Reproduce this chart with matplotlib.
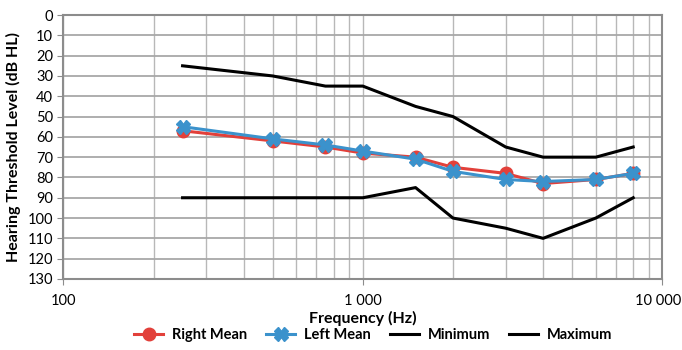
import matplotlib
matplotlib.use("Agg")
import matplotlib.pyplot as plt
import matplotlib.transforms as mtransforms
from matplotlib.ticker import FixedLocator, FixedFormatter, NullFormatter

freqs = [250, 500, 750, 1000, 1500, 2000, 3000, 4000, 6000, 8000]
right_mean = [57, 62, 65, 68, 70, 75, 78, 83, 81, 78]
left_mean = [55, 61, 64, 67, 71, 77, 81, 82, 81, 78]
minimum = [25, 30, 35, 35, 45, 50, 65, 70, 70, 65]
maximum = [90, 90, 90, 90, 85, 100, 105, 110, 100, 90]

x_major = [100, 1000, 10000]
x_major_labels = ["100", "1 000", "10 000"]
y_ticks = list(range(0, 131, 10))

plt.rcParams["font.family"] = ["Lato", "DejaVu Sans"]

fig = plt.figure(figsize=(6.82, 3.5), dpi=100)
ax = fig.add_axes([0.093, 0.203, 0.878, 0.754])

ax.plot(freqs, minimum, color="black", linewidth=2.2, label="Minimum", zorder=3)
ax.plot(freqs, maximum, color="black", linewidth=2.2, label="Maximum", zorder=3)
ax.plot(freqs, right_mean, color="#e2403a", linewidth=2.2, marker="o", markersize=9,
        markerfacecolor="#e2403a", markeredgecolor="#e2403a", label="Right Mean", zorder=4)
ax.plot(freqs, left_mean, color="#3b92cc", linewidth=2.2, marker="X", markersize=10,
        markerfacecolor="#3b92cc", markeredgecolor="#3b92cc", label="Left Mean", zorder=5)

ax.set_xscale("log")
ax.set_xlim(100, 10000)
ax.set_ylim(130, 0)
ax.xaxis.set_major_locator(FixedLocator(x_major))
ax.xaxis.set_major_formatter(FixedFormatter(x_major_labels))
ax.xaxis.set_minor_locator(FixedLocator([m * d for d in (100, 1000) for m in range(2, 10)]))
ax.xaxis.set_minor_formatter(NullFormatter())
ax.set_yticks(y_ticks)

ax.grid(True, which="both", axis="x", color="#b8b8b8", linewidth=1.0)
ax.grid(True, which="major", axis="y", color="#a8a8a8", linewidth=1.3)
ax.set_axisbelow(True)

for s in ax.spines.values():
    s.set_color("#8c8c8c")
    s.set_linewidth(1.5)
ax.tick_params(axis="both", which="major", labelsize=10.5, color="#8c8c8c", length=4)
ax.tick_params(axis="x", which="minor", length=0)
ax.tick_params(axis="x", which="major", pad=7)

# nudge the last x label inward so it stays inside the figure
last = ax.get_xticklabels()[-1]
last.set_transform(last.get_transform() + mtransforms.ScaledTranslation(-4 / 100, 0, fig.dpi_scale_trans))

ax.set_xlabel("Frequency (Hz)", fontsize=11.5, fontweight="bold", labelpad=2)
ax.set_ylabel("Hearing Threshold Level (dB HL)", fontsize=11.5, fontweight="bold", labelpad=5)

handles, labels = ax.get_legend_handles_labels()
order = [2, 3, 0, 1]
fig.legend([handles[i] for i in order], [labels[i] for i in order], loc="lower center",
           bbox_to_anchor=(0.547, -0.015), ncol=4, frameon=False,
           prop={"weight": "bold", "size": 10.5}, handlelength=2.0, columnspacing=1.3,
           handletextpad=0.6)

fig.savefig("out.png", dpi=100)
